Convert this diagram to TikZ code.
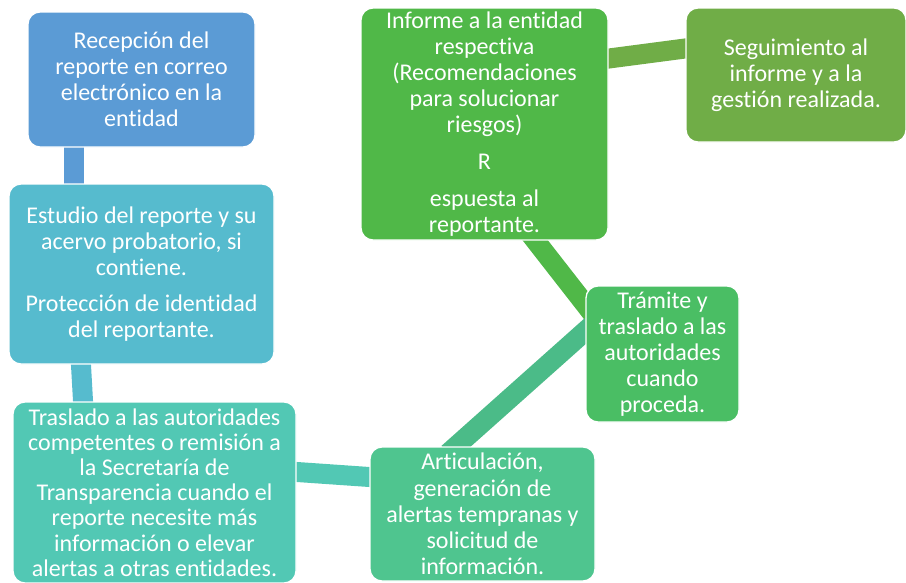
\documentclass[tikz,border=0pt]{standalone}
\usepackage{fontspec}
\setmainfont{Carlito}[Ligatures=NoCommon]
\usetikzlibrary{backgrounds}
\definecolor{cRec}{RGB}{91,155,213}
\definecolor{cEst}{RGB}{86,187,206}
\definecolor{cTrs}{RGB}{82,200,180}
\definecolor{cArt}{RGB}{79,197,143}
\definecolor{cTra}{RGB}{74,190,100}
\definecolor{cInf}{RGB}{80,184,72}
\definecolor{cSeg}{RGB}{112,173,71}
\tikzset{
  box/.style={rounded corners=9pt, draw=white, line width=1pt, text=white,
    align=center, inner sep=0pt, font=\fontsize{18}{19.6}\selectfont},
  bar/.style={line width=15pt, shorten <=-8pt, shorten >=-8pt}
}

\begin{document}
\begin{tikzpicture}[x=0.75pt,y=0.75pt,yscale=-1,xscale=1]
\useasboundingbox (0,0) rectangle (906,582);

% Text Node
\node (rec) at (141.5,79.5) [box, fill=cRec, minimum width=170.25pt, minimum height=101.25pt]
  {Recepción del\\reporte en correo\\electrónico en la\\entidad};
% Text Node
\node (est) at (141.5,274) [box, fill=cEst, minimum width=198.75pt, minimum height=135pt]
  {Estudio del reporte y su\\acervo probatorio, si\\contiene.\\[7.5pt]Protección de identidad\\del reportante.};
% Text Node
\node (trs) at (154.5,492.5) [box, fill=cTrs, minimum width=212.25pt, minimum height=135.75pt,
  font=\fontsize{18}{18.9}\selectfont]
  {Traslado a las autoridades\\competentes o remisión a\\la Secretaría de\\Transparencia cuando el\\reporte necesite más\\información o elevar\\alertas a otras entidades.};
% Text Node
\node (art) at (482.5,514) [box, fill=cArt, minimum width=168.75pt, minimum height=100.5pt]
  {Articulación,\\generación de\\alertas tempranas y\\solicitud de\\información.};
% Text Node
\node (tra) at (662.5,354) [box, fill=cTra, minimum width=114.75pt, minimum height=102pt]
  {Trámite y\\traslado a las\\autoridades\\cuando\\proceda.};
% Text Node
\node (inf) at (484.5,124) [box, fill=cInf, minimum width=185.25pt, minimum height=174pt]
  {Informe a la entidad\\respectiva\\(Recomendaciones\\para solucionar\\riesgos)\\[8pt]R\\[8pt]espuesta al\\reportante.};
% Text Node
\node (seg) at (796,75) [box, fill=cSeg, minimum width=165pt, minimum height=100.5pt]
  {Seguimiento al\\informe y a la\\gestión realizada.};

\begin{scope}[on background layer]
%Shape: Bar
\draw [bar, color=cRec] ([xshift=-51pt]rec.south) -- ([xshift=-51pt]est.north);
%Shape: Bar
\draw [bar, color=cEst] ([xshift=-45.4pt]est.south) -- ([xshift=-53.6pt]trs.north);
%Shape: Bar
\draw [bar, color=cTrs] ([yshift=-15.4pt]trs.east) -- ([yshift=-27.75pt]art.west);
%Shape: Bar
\draw [bar, color=cArt!95!black] ([xshift=-19.9pt]art.north) -- ([yshift=-17.25pt]tra.west);
%Shape: Bar
\draw [bar, color=cInf] ([xshift=38.25pt]inf.south) -- ([yshift=-37.1pt]tra.west);
%Shape: Bar
\draw [bar, color=cSeg] ([yshift=-49.1pt]inf.east) -- ([yshift=-19.9pt]seg.west);
\end{scope}

\end{tikzpicture}
\end{document}
